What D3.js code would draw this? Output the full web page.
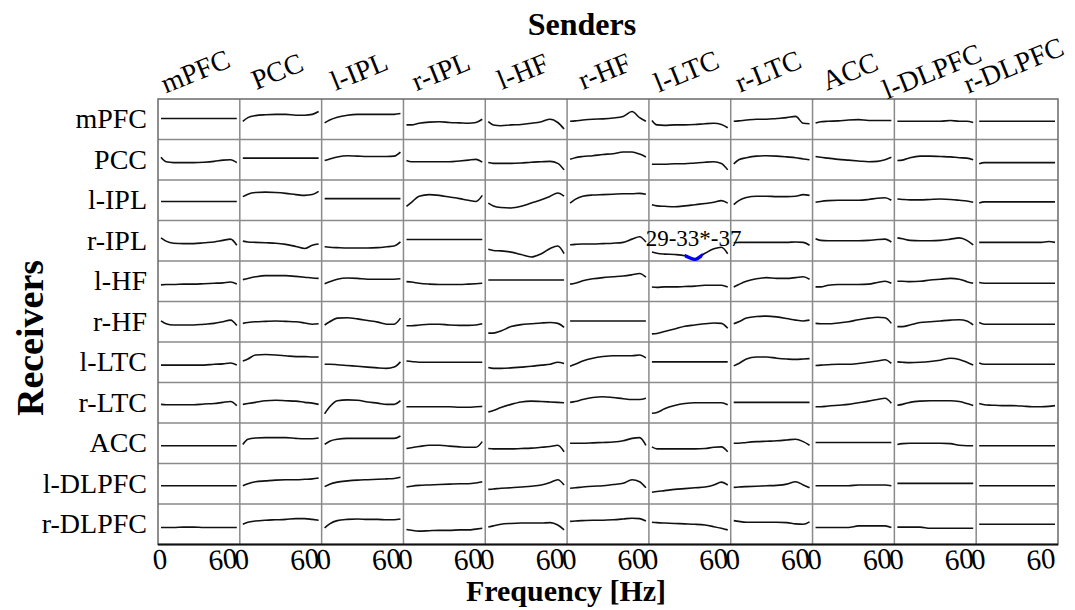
<!DOCTYPE html>
<html>
<head>
<meta charset="utf-8">
<script src="https://cdn.jsdelivr.net/npm/d3@7"></script>
<style>
  body { margin: 0; background: #fff; }
  text { font-family: "Liberation Serif", "Times New Roman", serif; fill: #000; }
</style>
</head>
<body>
<div id="viz-container"></div>
<script>
const width = 1075, height = 610;

// Regions (receivers = rows, senders = columns)
const receivers = ["mPFC", "PCC", "l-IPL", "r-IPL", "l-HF", "r-HF", "l-LTC", "r-LTC", "ACC", "l-DLPFC", "r-DLPFC"];
const senders = ["mPFC", "PCC", "l-IPL", "r-IPL", "l-HF", "r-HF", "l-LTC", "r-LTC", "ACC", "l-DLPFC", "r-DLPFC"];

// Frequencies (Hz) where each spectrum is read
const freqs = [0, 4, 10, 18, 26, 34, 42, 49, 55, 60];
const tickValues = [0, 60];

// Relative spectrum level (0 = cell bottom, 1 = cell top), one row per receiver, one list per sender
const toMPFC = [
  [0.52, 0.52, 0.52, 0.52, 0.52, 0.52, 0.52, 0.52, 0.52, 0.52],
  [0.45, 0.54, 0.59, 0.61, 0.62, 0.62, 0.60, 0.60, 0.62, 0.69],
  [0.41, 0.48, 0.55, 0.60, 0.62, 0.62, 0.62, 0.62, 0.62, 0.64],
  [0.36, 0.36, 0.40, 0.43, 0.44, 0.42, 0.41, 0.40, 0.42, 0.50],
  [0.44, 0.36, 0.34, 0.36, 0.37, 0.40, 0.44, 0.50, 0.42, 0.26],
  [0.45, 0.46, 0.48, 0.50, 0.51, 0.53, 0.57, 0.69, 0.54, 0.45],
  [0.47, 0.36, 0.35, 0.36, 0.36, 0.37, 0.39, 0.40, 0.37, 0.29],
  [0.45, 0.46, 0.48, 0.50, 0.50, 0.52, 0.54, 0.57, 0.40, 0.39],
  [0.41, 0.44, 0.45, 0.46, 0.48, 0.49, 0.47, 0.47, 0.47, 0.47],
  [0.45, 0.45, 0.45, 0.45, 0.45, 0.45, 0.47, 0.45, 0.45, 0.42],
  [0.45, 0.45, 0.45, 0.45, 0.45, 0.45, 0.45, 0.45, 0.45, 0.45]
];
const toPCC = [
  [0.56, 0.45, 0.43, 0.43, 0.43, 0.44, 0.46, 0.49, 0.50, 0.43],
  [0.54, 0.54, 0.54, 0.54, 0.54, 0.54, 0.54, 0.54, 0.54, 0.54],
  [0.48, 0.52, 0.57, 0.60, 0.59, 0.58, 0.58, 0.58, 0.59, 0.69],
  [0.48, 0.45, 0.45, 0.45, 0.45, 0.45, 0.47, 0.49, 0.51, 0.44],
  [0.43, 0.41, 0.41, 0.41, 0.42, 0.44, 0.45, 0.46, 0.41, 0.25],
  [0.51, 0.55, 0.58, 0.60, 0.63, 0.65, 0.69, 0.69, 0.64, 0.57],
  [0.39, 0.39, 0.39, 0.40, 0.40, 0.42, 0.44, 0.45, 0.41, 0.25],
  [0.40, 0.50, 0.55, 0.59, 0.60, 0.59, 0.57, 0.55, 0.52, 0.50],
  [0.58, 0.56, 0.54, 0.51, 0.49, 0.47, 0.45, 0.46, 0.50, 0.56],
  [0.48, 0.49, 0.55, 0.59, 0.59, 0.58, 0.57, 0.55, 0.54, 0.50],
  [0.40, 0.43, 0.43, 0.43, 0.43, 0.43, 0.43, 0.43, 0.43, 0.43]
];
const toLIPL = [
  [0.47, 0.47, 0.47, 0.47, 0.47, 0.47, 0.47, 0.47, 0.47, 0.47],
  [0.59, 0.65, 0.69, 0.70, 0.69, 0.67, 0.64, 0.62, 0.64, 0.72],
  [0.54, 0.54, 0.54, 0.54, 0.54, 0.54, 0.54, 0.54, 0.54, 0.54],
  [0.35, 0.45, 0.60, 0.64, 0.62, 0.58, 0.54, 0.50, 0.47, 0.62],
  [0.43, 0.36, 0.32, 0.31, 0.35, 0.43, 0.51, 0.60, 0.68, 0.60],
  [0.43, 0.52, 0.60, 0.63, 0.64, 0.65, 0.66, 0.66, 0.67, 0.65],
  [0.39, 0.36, 0.35, 0.34, 0.36, 0.39, 0.42, 0.45, 0.49, 0.43],
  [0.39, 0.49, 0.57, 0.60, 0.60, 0.59, 0.59, 0.60, 0.64, 0.62],
  [0.45, 0.47, 0.49, 0.50, 0.50, 0.50, 0.52, 0.55, 0.56, 0.50],
  [0.53, 0.52, 0.51, 0.51, 0.52, 0.53, 0.52, 0.50, 0.48, 0.45],
  [0.43, 0.46, 0.46, 0.46, 0.46, 0.46, 0.46, 0.46, 0.46, 0.46]
];
const toRIPL = [
  [0.57, 0.49, 0.44, 0.43, 0.43, 0.45, 0.47, 0.51, 0.54, 0.39],
  [0.49, 0.47, 0.46, 0.45, 0.44, 0.41, 0.36, 0.31, 0.39, 0.42],
  [0.35, 0.34, 0.33, 0.32, 0.32, 0.32, 0.33, 0.35, 0.37, 0.47],
  [0.53, 0.53, 0.53, 0.53, 0.53, 0.53, 0.53, 0.53, 0.53, 0.53],
  [0.29, 0.26, 0.25, 0.22, 0.16, 0.10, 0.18, 0.31, 0.37, 0.18],
  [0.40, 0.41, 0.42, 0.42, 0.43, 0.44, 0.46, 0.54, 0.60, 0.47],
  [0.22, 0.19, 0.17, 0.16, 0.13, 0.04, 0.19, 0.30, 0.34, 0.18],
  [0.45, 0.46, 0.46, 0.46, 0.46, 0.46, 0.46, 0.47, 0.46, 0.39],
  [0.55, 0.51, 0.50, 0.50, 0.50, 0.50, 0.51, 0.53, 0.54, 0.47],
  [0.57, 0.55, 0.51, 0.50, 0.50, 0.51, 0.54, 0.57, 0.51, 0.40],
  [0.46, 0.46, 0.46, 0.46, 0.46, 0.46, 0.46, 0.46, 0.48, 0.46]
];
const toLHF = [
  [0.41, 0.42, 0.42, 0.43, 0.43, 0.44, 0.45, 0.46, 0.48, 0.43],
  [0.54, 0.57, 0.61, 0.64, 0.64, 0.64, 0.62, 0.60, 0.58, 0.57],
  [0.44, 0.49, 0.55, 0.58, 0.57, 0.55, 0.55, 0.55, 0.55, 0.56],
  [0.49, 0.48, 0.45, 0.43, 0.42, 0.42, 0.42, 0.43, 0.44, 0.45],
  [0.53, 0.53, 0.53, 0.53, 0.53, 0.53, 0.53, 0.53, 0.53, 0.53],
  [0.43, 0.45, 0.51, 0.56, 0.59, 0.61, 0.63, 0.66, 0.69, 0.60],
  [0.36, 0.35, 0.36, 0.36, 0.37, 0.38, 0.40, 0.40, 0.40, 0.36],
  [0.36, 0.42, 0.50, 0.56, 0.59, 0.57, 0.57, 0.59, 0.61, 0.55],
  [0.36, 0.36, 0.40, 0.42, 0.42, 0.42, 0.43, 0.47, 0.50, 0.45],
  [0.50, 0.50, 0.49, 0.50, 0.53, 0.55, 0.57, 0.55, 0.49, 0.45],
  [0.47, 0.45, 0.45, 0.45, 0.45, 0.45, 0.45, 0.45, 0.45, 0.45]
];
const toRHF = [
  [0.52, 0.45, 0.42, 0.42, 0.42, 0.44, 0.46, 0.50, 0.54, 0.41],
  [0.46, 0.48, 0.50, 0.51, 0.52, 0.51, 0.50, 0.47, 0.44, 0.45],
  [0.42, 0.50, 0.59, 0.60, 0.57, 0.53, 0.49, 0.44, 0.44, 0.59],
  [0.40, 0.40, 0.42, 0.44, 0.44, 0.42, 0.41, 0.41, 0.42, 0.45],
  [0.22, 0.22, 0.27, 0.38, 0.43, 0.45, 0.47, 0.48, 0.46, 0.36],
  [0.52, 0.52, 0.52, 0.52, 0.52, 0.52, 0.52, 0.52, 0.52, 0.52],
  [0.20, 0.21, 0.26, 0.32, 0.39, 0.42, 0.45, 0.47, 0.46, 0.34],
  [0.45, 0.50, 0.59, 0.63, 0.64, 0.62, 0.58, 0.54, 0.52, 0.54],
  [0.46, 0.45, 0.45, 0.47, 0.50, 0.55, 0.59, 0.61, 0.60, 0.46],
  [0.38, 0.38, 0.42, 0.48, 0.50, 0.52, 0.54, 0.55, 0.52, 0.42],
  [0.48, 0.44, 0.44, 0.44, 0.44, 0.44, 0.44, 0.44, 0.44, 0.44]
];
const toLLTC = [
  [0.43, 0.43, 0.43, 0.43, 0.43, 0.43, 0.45, 0.46, 0.48, 0.43],
  [0.53, 0.58, 0.68, 0.69, 0.68, 0.66, 0.64, 0.64, 0.63, 0.63],
  [0.45, 0.45, 0.44, 0.42, 0.40, 0.38, 0.36, 0.35, 0.38, 0.51],
  [0.53, 0.52, 0.50, 0.50, 0.50, 0.50, 0.50, 0.50, 0.50, 0.50],
  [0.37, 0.35, 0.35, 0.36, 0.38, 0.40, 0.43, 0.45, 0.50, 0.47],
  [0.40, 0.45, 0.53, 0.60, 0.64, 0.66, 0.66, 0.66, 0.68, 0.61],
  [0.51, 0.51, 0.51, 0.51, 0.51, 0.51, 0.51, 0.51, 0.51, 0.51],
  [0.41, 0.47, 0.58, 0.63, 0.63, 0.60, 0.58, 0.57, 0.58, 0.59],
  [0.42, 0.43, 0.44, 0.45, 0.45, 0.47, 0.50, 0.53, 0.56, 0.47],
  [0.51, 0.50, 0.49, 0.50, 0.52, 0.55, 0.60, 0.57, 0.50, 0.43],
  [0.48, 0.45, 0.45, 0.45, 0.45, 0.45, 0.45, 0.45, 0.45, 0.45]
];
const toRLTC = [
  [0.46, 0.45, 0.45, 0.45, 0.45, 0.47, 0.48, 0.51, 0.53, 0.43],
  [0.46, 0.48, 0.51, 0.55, 0.56, 0.55, 0.54, 0.51, 0.49, 0.46],
  [0.23, 0.40, 0.55, 0.57, 0.56, 0.52, 0.49, 0.46, 0.46, 0.55],
  [0.40, 0.40, 0.40, 0.40, 0.40, 0.40, 0.39, 0.39, 0.40, 0.41],
  [0.27, 0.31, 0.38, 0.46, 0.52, 0.54, 0.53, 0.52, 0.51, 0.50],
  [0.51, 0.53, 0.58, 0.63, 0.65, 0.63, 0.60, 0.58, 0.58, 0.61],
  [0.24, 0.26, 0.35, 0.43, 0.48, 0.50, 0.50, 0.50, 0.50, 0.45],
  [0.51, 0.51, 0.51, 0.51, 0.51, 0.51, 0.51, 0.51, 0.51, 0.51],
  [0.40, 0.40, 0.42, 0.44, 0.46, 0.50, 0.54, 0.58, 0.61, 0.49],
  [0.44, 0.46, 0.51, 0.54, 0.55, 0.55, 0.55, 0.53, 0.48, 0.43],
  [0.48, 0.45, 0.44, 0.43, 0.43, 0.42, 0.40, 0.40, 0.41, 0.43]
];
const toACC = [
  [0.44, 0.44, 0.44, 0.44, 0.44, 0.44, 0.44, 0.44, 0.44, 0.44],
  [0.47, 0.60, 0.63, 0.64, 0.64, 0.64, 0.62, 0.61, 0.61, 0.63],
  [0.47, 0.55, 0.60, 0.62, 0.62, 0.62, 0.62, 0.62, 0.62, 0.68],
  [0.37, 0.39, 0.42, 0.45, 0.45, 0.43, 0.41, 0.40, 0.40, 0.54],
  [0.37, 0.36, 0.36, 0.36, 0.37, 0.38, 0.40, 0.42, 0.45, 0.29],
  [0.50, 0.50, 0.50, 0.51, 0.52, 0.53, 0.56, 0.62, 0.64, 0.45],
  [0.41, 0.36, 0.36, 0.36, 0.36, 0.36, 0.37, 0.40, 0.41, 0.29],
  [0.50, 0.50, 0.52, 0.54, 0.55, 0.56, 0.58, 0.60, 0.54, 0.45],
  [0.52, 0.52, 0.52, 0.52, 0.52, 0.52, 0.52, 0.52, 0.52, 0.52],
  [0.47, 0.49, 0.50, 0.50, 0.50, 0.50, 0.49, 0.45, 0.44, 0.44],
  [0.44, 0.44, 0.44, 0.44, 0.44, 0.44, 0.44, 0.44, 0.44, 0.44]
];
const toLDLPFC = [
  [0.45, 0.45, 0.45, 0.45, 0.45, 0.45, 0.45, 0.45, 0.45, 0.45],
  [0.45, 0.50, 0.55, 0.57, 0.59, 0.60, 0.60, 0.61, 0.62, 0.64],
  [0.43, 0.49, 0.54, 0.57, 0.59, 0.60, 0.61, 0.62, 0.63, 0.66],
  [0.42, 0.44, 0.46, 0.47, 0.48, 0.49, 0.50, 0.50, 0.52, 0.55],
  [0.36, 0.37, 0.39, 0.40, 0.42, 0.44, 0.47, 0.53, 0.60, 0.47],
  [0.39, 0.40, 0.42, 0.44, 0.45, 0.48, 0.51, 0.60, 0.55, 0.40],
  [0.29, 0.31, 0.33, 0.36, 0.38, 0.40, 0.42, 0.47, 0.54, 0.47],
  [0.41, 0.42, 0.43, 0.44, 0.45, 0.46, 0.49, 0.55, 0.47, 0.40],
  [0.45, 0.45, 0.45, 0.45, 0.45, 0.47, 0.47, 0.47, 0.47, 0.45],
  [0.51, 0.51, 0.51, 0.51, 0.51, 0.51, 0.51, 0.51, 0.51, 0.51],
  [0.45, 0.45, 0.45, 0.45, 0.45, 0.45, 0.45, 0.45, 0.45, 0.45]
];
const toRDLPFC = [
  [0.42, 0.42, 0.42, 0.43, 0.43, 0.42, 0.42, 0.42, 0.42, 0.42],
  [0.50, 0.55, 0.58, 0.60, 0.61, 0.62, 0.64, 0.64, 0.62, 0.60],
  [0.41, 0.51, 0.59, 0.62, 0.63, 0.62, 0.62, 0.61, 0.61, 0.63],
  [0.37, 0.35, 0.33, 0.34, 0.35, 0.35, 0.36, 0.36, 0.38, 0.40],
  [0.43, 0.46, 0.50, 0.52, 0.53, 0.53, 0.53, 0.54, 0.48, 0.36],
  [0.57, 0.58, 0.59, 0.60, 0.60, 0.61, 0.63, 0.65, 0.64, 0.58],
  [0.55, 0.54, 0.53, 0.52, 0.51, 0.50, 0.48, 0.44, 0.40, 0.36],
  [0.59, 0.57, 0.55, 0.55, 0.55, 0.55, 0.54, 0.51, 0.50, 0.56],
  [0.42, 0.42, 0.42, 0.42, 0.42, 0.46, 0.46, 0.46, 0.46, 0.42],
  [0.43, 0.43, 0.43, 0.43, 0.40, 0.40, 0.40, 0.40, 0.40, 0.40],
  [0.50, 0.50, 0.50, 0.50, 0.50, 0.50, 0.50, 0.50, 0.50, 0.50]
];
const spectra = [toMPFC, toPCC, toLIPL, toRIPL, toLHF, toRHF, toLLTC, toRLTC, toACC, toLDLPFC, toRDLPFC];

// Significant band (receiver row, sender column, frequency range, label)
const sigRow = 3, sigCol = 6;
const sigBand = [26, 40];
const sigPeak = 33;
const sigLabel = "29-33*-37";

// Mise en page
const grid = {left: 158, top: 99, right: 1058, bottom: 544.5};

const svg = d3.select("#viz-container")
  .append("svg")
  .attr("width", width)
  .attr("height", height);

// Échelles des cellules
const colScale = d3.scaleBand().domain(d3.range(senders.length)).range([grid.left, grid.right]);
const rowScale = d3.scaleBand().domain(d3.range(receivers.length)).range([grid.top, grid.bottom]);
const cw = colScale.bandwidth(), ch = rowScale.bandwidth();

const xIn = d3.scaleLinear().domain([0, 60]).range([3, cw - 3]);
const yIn = d3.scaleLinear().domain([0, 1]).range([ch, 0]);

const line = d3.line()
  .x((d, i) => xIn(freqs[i]))
  .y(d => yIn(d))
  .curve(d3.curveMonotoneX);

// Grille
const gridG = svg.append("g");
d3.range(1, senders.length).forEach(j => {
  gridG.append("line")
    .attr("x1", colScale(j)).attr("x2", colScale(j))
    .attr("y1", grid.top).attr("y2", grid.bottom)
    .attr("stroke", "#8a8a8a").attr("stroke-width", 1.5);
});
d3.range(1, receivers.length).forEach(i => {
  gridG.append("line")
    .attr("x1", grid.left).attr("x2", grid.right)
    .attr("y1", rowScale(i)).attr("y2", rowScale(i))
    .attr("stroke", "#8a8a8a").attr("stroke-width", 1.5);
});
gridG.append("rect")
  .attr("x", grid.left).attr("y", grid.top)
  .attr("width", grid.right - grid.left).attr("height", grid.bottom - grid.top)
  .attr("fill", "none").attr("stroke", "#6a6a6a").attr("stroke-width", 1.5);
gridG.append("line")
  .attr("x1", grid.left).attr("x2", grid.right)
  .attr("y1", grid.bottom).attr("y2", grid.bottom)
  .attr("stroke", "#111").attr("stroke-width", 1.8);

// Courbes
spectra.forEach((row, i) => {
  row.forEach((vals, j) => {
    const g = svg.append("g")
      .attr("transform", `translate(${colScale(j)},${rowScale(i)})`);
    g.append("path")
      .attr("d", line(vals))
      .attr("fill", "none")
      .attr("stroke", "#111")
      .attr("stroke-width", 1.6);

    if (i === sigRow && j === sigCol) {
      g.append("clipPath").attr("id", "sig-clip")
        .append("rect")
        .attr("x", xIn(sigBand[0])).attr("y", 0)
        .attr("width", xIn(sigBand[1]) - xIn(sigBand[0])).attr("height", ch);
      g.append("path")
        .attr("d", line(vals))
        .attr("fill", "none")
        .attr("stroke", "#0000ff")
        .attr("stroke-width", 3.5)
        .attr("clip-path", "url(#sig-clip)");
      g.append("text")
        .attr("x", xIn(sigPeak))
        .attr("y", 25.5)
        .attr("text-anchor", "middle")
        .style("font-size", "23px")
        .text(sigLabel);
    }
  });
});

// Étiquettes des lignes
receivers.forEach((r, i) => {
  svg.append("text")
    .attr("x", 147)
    .attr("y", rowScale(i) + ch / 2 + 9)
    .attr("text-anchor", "end")
    .style("font-size", "28px")
    .text(r);
});

// Étiquettes des colonnes
senders.forEach((s, j) => {
  svg.append("text")
    .attr("transform", `translate(${colScale(j) + cw / 2},${j === senders.length - 1 ? 74 : 80}) rotate(-22)`)
    .attr("text-anchor", "middle")
    .style("font-size", "28px")
    .text(s);
});

// Graduations de fréquence
senders.forEach((s, j) => {
  tickValues.forEach(t => {
    const x = colScale(j) + xIn(t) + (t === 0 ? 0 : -13);
    svg.append("text")
      .attr("transform", `translate(${x},569) rotate(-6)`)
      .attr("text-anchor", "middle")
      .style("font-size", "29px")
      .text(t);
  });
});

// Titres
svg.append("text")
  .attr("x", 582).attr("y", 35)
  .attr("text-anchor", "middle")
  .style("font-size", "32px").style("font-weight", "bold")
  .text("Senders");

svg.append("text")
  .attr("transform", "translate(43,338) rotate(-90)")
  .attr("text-anchor", "middle")
  .style("font-size", "38px").style("font-weight", "bold")
  .text("Receivers");

svg.append("text")
  .attr("x", 566).attr("y", 601)
  .attr("text-anchor", "middle")
  .style("font-size", "30px").style("font-weight", "bold")
  .text("Frequency [Hz]");
</script>
</body>
</html>
